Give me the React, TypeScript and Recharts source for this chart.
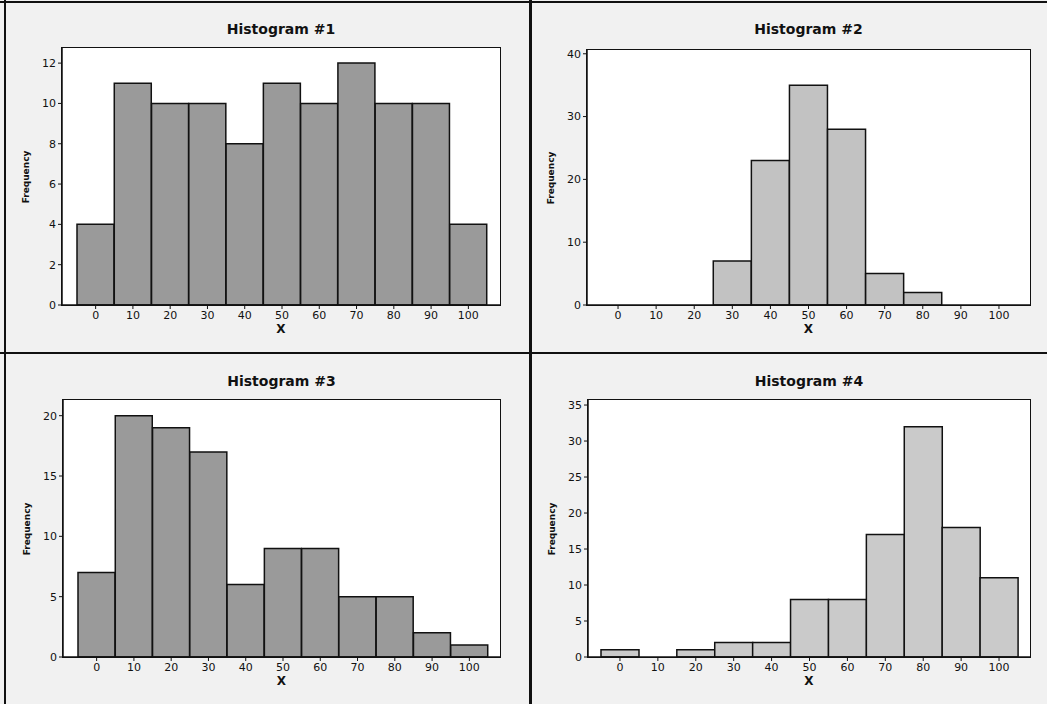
import { BarChart, Bar, XAxis, YAxis, CartesianGrid } from 'recharts';

// bin midpoints shown on the x axis
const bins = ['0', '10', '20', '30', '40', '50', '60', '70', '80', '90', '100'];

const hist1 = [4, 11, 10, 10, 8, 11, 10, 12, 10, 10, 4];
const hist2 = [0, 0, 0, 7, 23, 35, 28, 5, 2, 0, 0];
const hist3 = [7, 20, 19, 17, 6, 9, 9, 5, 5, 2, 1];
const hist4 = [1, 0, 1, 2, 2, 8, 8, 17, 32, 18, 11];

const ticks1 = [0, 2, 4, 6, 8, 10, 12];
const ticks2 = [0, 10, 20, 30, 40];
const ticks3 = [0, 5, 10, 15, 20];
const ticks4 = [0, 5, 10, 15, 20, 25, 30, 35];

const FONT = '"DejaVu Sans", Verdana, sans-serif';

interface PanelProps {
  title: string;
  values: number[];
  ticks: number[];
  yMax: number;
  fill: string;
  x: number;
  y: number;
  width: number;
  plotLeft: number;
  plotTop: number;
  padLeft: number;
  padRight: number;
}

function Panel({ title, values, ticks, yMax, fill, x, y, width, plotLeft, plotTop, padLeft, padRight }: PanelProps) {
  const height = 352;
  const plotRight = 500;
  const plotBottom = 305;
  const data = bins.map((b, i) => ({ bin: b, freq: values[i] }));
  const yAxisW = 26;
  const xAxisH = 30;
  const tickStyle = { fontSize: 11, fill: '#111', fontFamily: FONT };

  return (
    <div style={{ position: 'absolute', left: x, top: y, width, height }}>
      <div
        style={{
          position: 'absolute', left: plotLeft, width: plotRight - plotLeft, top: 21,
          textAlign: 'center', fontFamily: FONT, fontWeight: 'bold', fontSize: 14, color: '#111',
        }}
      >
        {title}
      </div>
      <div
        style={{
          position: 'absolute', left: (plotLeft + plotRight) / 2 - 10, width: 20, top: 322,
          textAlign: 'center', fontFamily: FONT, fontWeight: 'bold', fontSize: 12, color: '#111',
        }}
      >
        X
      </div>
      <div
        style={{
          position: 'absolute', left: plotLeft - 36, top: (plotTop + plotBottom) / 2,
          transform: 'translate(-50%, -50%) rotate(-90deg)',
          fontFamily: FONT, fontWeight: 'bold', fontSize: 9, color: '#111',
        }}
      >
        Frequency
      </div>
      <BarChart
        width={width}
        height={height}
        data={data}
        barCategoryGap={0}
        margin={{ top: plotTop, right: width - plotRight, left: plotLeft - yAxisW, bottom: height - plotBottom - xAxisH }}
      >
        <CartesianGrid horizontal={false} vertical={false} fill="#ffffff" />
        <XAxis
          dataKey="bin"
          height={xAxisH}
          padding={{ left: padLeft, right: padRight }}
          interval={0}
          tick={tickStyle}
          tickLine={{ stroke: '#111' }}
          tickSize={4}
          axisLine={{ stroke: '#111', strokeWidth: 1.5 }}
        />
        <YAxis
          width={yAxisW}
          domain={[0, yMax]}
          ticks={ticks}
          interval={0}
          allowDataOverflow
          tick={tickStyle}
          tickLine={{ stroke: '#111' }}
          tickSize={4}
          axisLine={{ stroke: '#111', strokeWidth: 1.5 }}
        />
        <Bar dataKey="freq" fill={fill} stroke="#111" strokeWidth={1.5} isAnimationActive={false} />
      </BarChart>
      {/* plot frame */}
      <div
        style={{
          position: 'absolute', left: plotLeft - 1, top: plotTop - 1,
          width: plotRight - plotLeft, height: plotBottom - plotTop,
          border: '1.5px solid #111', pointerEvents: 'none',
        }}
      />
    </div>
  );
}

export default function App() {
  return (
    <div style={{ position: 'absolute', left: 0, top: 0, width: 1047, height: 704, background: '#f1f1f1', overflow: 'hidden' }}>
      <Panel title="Histogram #1" values={hist1} ticks={ticks1} yMax={12.75} fill="#9a9a9a"
        x={0} y={0} width={530} plotLeft={62} plotTop={48} padLeft={15} padRight={13} />
      <Panel title="Histogram #2" values={hist2} ticks={ticks2} yMax={40.6} fill="#c2c2c2"
        x={530} y={0} width={517} plotLeft={57} plotTop={50} padLeft={12} padRight={12} />
      <Panel title="Histogram #3" values={hist3} ticks={ticks3} yMax={21.3} fill="#9a9a9a"
        x={0} y={352} width={530} plotLeft={63} plotTop={48} padLeft={15} padRight={12} />
      <Panel title="Histogram #4" values={hist4} ticks={ticks4} yMax={35.7} fill="#cacaca"
        x={530} y={352} width={517} plotLeft={58} plotTop={48} padLeft={13} padRight={12} />
      {/* panel frame lines */}
      <div style={{ position: 'absolute', left: 0, top: 1, width: 1047, height: 2, background: '#111' }} />
      <div style={{ position: 'absolute', left: 4, top: 0, width: 2, height: 704, background: '#111' }} />
      <div style={{ position: 'absolute', left: 529, top: 0, width: 3, height: 704, background: '#111' }} />
      <div style={{ position: 'absolute', left: 0, top: 352, width: 1047, height: 2, background: '#111' }} />
    </div>
  );
}
